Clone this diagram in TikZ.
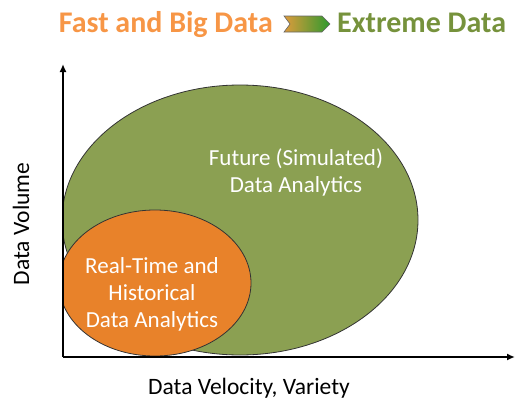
\documentclass[tikz,border=0pt]{standalone}
\usepackage{fontspec}
\setmainfont{Carlito}
\usetikzlibrary{arrows.meta}
\definecolor{ttlorange}{HTML}{F79646}
\definecolor{ttlgreen}{HTML}{76923C}
\definecolor{fillgreen}{HTML}{8BA052}
\definecolor{fillorange}{HTML}{E8822A}
\definecolor{chevL}{HTML}{DE9B3C}
\definecolor{chevR}{HTML}{2E9A2E}
\begin{document}
\begin{tikzpicture}[x=1pt,y=-1pt,
  blob/.style={draw=black!80, line width=0.8pt},
  axis/.style={line width=2.4pt, -{Latex[length=8pt,width=7pt]}},
  intext/.style={text=white, font=\fontsize{23}{27}\selectfont, align=center},
  axlabel/.style={font=\fontsize{23.5}{27}\selectfont},
  ttl/.style={font=\bfseries\fontsize{30}{34}\selectfont, inner sep=0pt}]
\useasboundingbox (0,0) rectangle (515,399);
\coordinate (O) at (63,357);
\coordinate (ytip) at (63,64);
\coordinate (xtip) at (515,357);
\begin{scope}
  \clip (O) rectangle (515,0);
  \path[blob, fill=fillgreen] (240,220) ellipse [x radius=178, y radius=135];
  \path[blob, fill=fillorange] (155,283) ellipse [x radius=96, y radius=73];
\end{scope}
\draw[axis] (O) -- (ytip);
\draw[axis] (O) -- (xtip);
\node[intext] (future) at (296,172) {Future (Simulated)\\Data Analytics};
\node[intext] (realtime) at (152,294) {Real-Time and\\Historical\\Data Analytics};
\node[axlabel, rotate=90] (yl) at (21,224) {Data Volume};
\node[axlabel, inner sep=1pt] (xl) at (249,388) {Data Velocity, Variety};
\node[ttl, text=ttlorange, anchor=base east] (fast) at (273,32) {Fast and Big Data};
\node[ttl, text=ttlgreen, anchor=base west] (extreme) at (337,32) {Extreme Data};
\shade[left color=chevL, right color=chevR, draw=black!60, line width=0.6pt]
  (284,16) -- (322,16) -- (330,24) -- (322,32) -- (284,32) -- (290,24) -- cycle;
\end{tikzpicture}
\end{document}
